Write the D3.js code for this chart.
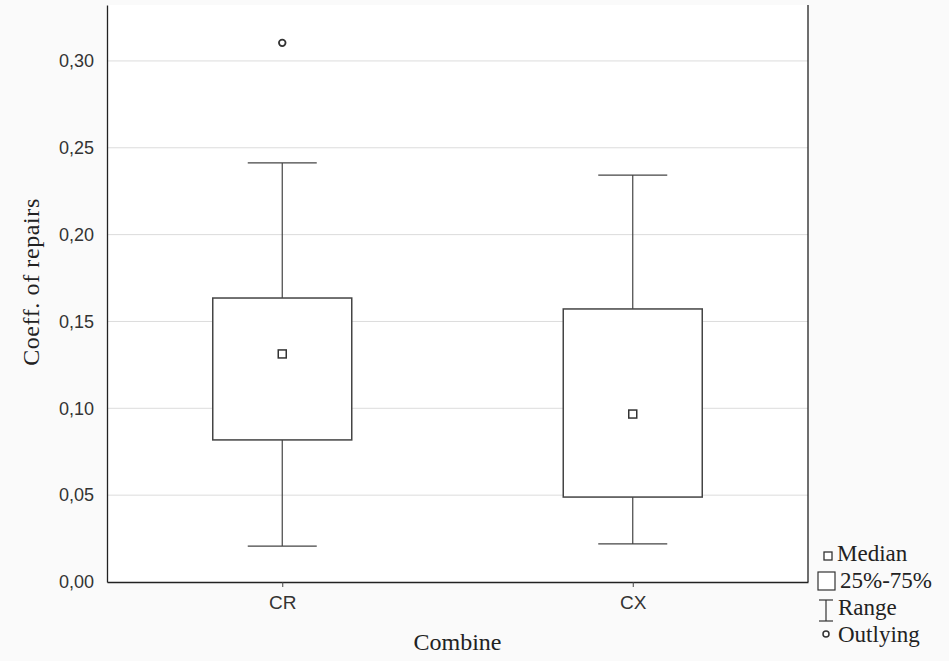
<!DOCTYPE html>
<html>
<head>
<meta charset="utf-8">
<script src="https://cdn.jsdelivr.net/npm/d3@7"></script>
<style>
  body { margin: 0; background: #fafafa; }
  svg { display: block; }
</style>
</head>
<body>
<div id="chart"></div>
<script>
// data
const groups = ["CR", "CX"]
const mins = [0.0207, 0.0219]
const q1s = [0.0818, 0.0489]
const medians = [0.1313, 0.0967]
const q3s = [0.1635, 0.1572]
const maxs = [0.2413, 0.2343]
const outliers = [[0.3104], []]
const yTicks = [0, 0.05, 0.10, 0.15, 0.20, 0.25, 0.30]

var width = 949, height = 661
var margin = {top: 5, right: 141, bottom: 79, left: 107}
var w = width - margin.left - margin.right
var h = height - margin.top - margin.bottom

var svg = d3.select("#chart")
  .append("svg")
    .attr("width", width)
    .attr("height", height)

var g = svg.append("g")
  .attr("transform", "translate(" + margin.left + "," + margin.top + ")")

// plot background
g.append("rect")
  .attr("width", w)
  .attr("height", h)
  .attr("fill", "#fff")

var y = d3.scaleLinear()
  .domain([0, 0.3322])
  .range([h, 0])

var x = d3.scalePoint()
  .domain(groups)
  .range([0, w])
  .padding(0.5)

var fmt = function(d) { return d3.format(".2f")(d).replace(".", ",") }

// grid
g.selectAll("line.grid")
  .data(yTicks.slice(1))
  .enter()
  .append("line")
    .attr("class", "grid")
    .attr("x1", 0)
    .attr("x2", w)
    .attr("y1", function(d) { return y(d) })
    .attr("y2", function(d) { return y(d) })
    .attr("stroke", "#dcdcdc")
    .attr("stroke-width", 1)

// y axis
var yAxis = g.append("g")
  .call(d3.axisLeft(y).tickValues(yTicks).tickFormat(fmt).tickSize(0).tickPadding(13))
yAxis.select(".domain").attr("stroke", "#222").attr("stroke-width", 1.3)
yAxis.selectAll("text")
  .style("font-family", "Liberation Sans, Arial, sans-serif")
  .style("font-size", "18px")
  .attr("fill", "#333")

// x axis
var xAxis = g.append("g")
  .attr("transform", "translate(0," + h + ")")
  .call(d3.axisBottom(x).tickSize(5).tickSizeOuter(0).tickPadding(9))
xAxis.select(".domain").attr("stroke", "#222").attr("stroke-width", 1.3)
xAxis.selectAll(".tick line").attr("stroke", "#444")
xAxis.selectAll("text")
  .style("font-family", "Liberation Sans, Arial, sans-serif")
  .style("font-size", "19px")
  .attr("fill", "#333")

// right border
g.append("line")
  .attr("x1", w).attr("x2", w)
  .attr("y1", 0).attr("y2", h)
  .attr("stroke", "#222")
  .attr("stroke-width", 1.3)

var boxW = 139
var capW = 69
var stroke = "#444"

groups.forEach(function(name, i) {
  var cx = x(name)
  // whiskers
  g.append("line")
    .attr("x1", cx).attr("x2", cx)
    .attr("y1", y(q3s[i])).attr("y2", y(maxs[i]))
    .attr("stroke", stroke).attr("stroke-width", 1.2)
  g.append("line")
    .attr("x1", cx).attr("x2", cx)
    .attr("y1", y(q1s[i])).attr("y2", y(mins[i]))
    .attr("stroke", stroke).attr("stroke-width", 1.2)
  g.append("line")
    .attr("x1", cx - capW / 2).attr("x2", cx + capW / 2)
    .attr("y1", y(maxs[i])).attr("y2", y(maxs[i]))
    .attr("stroke", stroke).attr("stroke-width", 1.2)
  g.append("line")
    .attr("x1", cx - capW / 2).attr("x2", cx + capW / 2)
    .attr("y1", y(mins[i])).attr("y2", y(mins[i]))
    .attr("stroke", stroke).attr("stroke-width", 1.2)
  // box
  g.append("rect")
    .attr("x", cx - boxW / 2)
    .attr("y", y(q3s[i]))
    .attr("width", boxW)
    .attr("height", y(q1s[i]) - y(q3s[i]))
    .attr("fill", "#fff")
    .attr("stroke", stroke)
    .attr("stroke-width", 1.5)
  // median
  g.append("rect")
    .attr("x", cx - 4)
    .attr("y", y(medians[i]) - 4)
    .attr("width", 8)
    .attr("height", 8)
    .attr("fill", "#fff")
    .attr("stroke", "#333")
    .attr("stroke-width", 1.5)
  // outliers
  g.selectAll("circle.out" + i)
    .data(outliers[i])
    .enter()
    .append("circle")
      .attr("cx", cx)
      .attr("cy", function(d) { return y(d) })
      .attr("r", 3.3)
      .attr("fill", "#fff")
      .attr("stroke", "#333")
      .attr("stroke-width", 1.8)
})

// axis titles
svg.append("text")
  .attr("transform", "translate(39,282) rotate(-90)")
  .attr("text-anchor", "middle")
  .style("font-family", "Liberation Serif, Times New Roman, serif")
  .style("font-size", "24px")
  .style("letter-spacing", "0.6px")
  .attr("fill", "#222")
  .text("Coeff. of repairs")

svg.append("text")
  .attr("x", margin.left + w / 2)
  .attr("y", 650)
  .attr("text-anchor", "middle")
  .style("font-family", "Liberation Serif, Times New Roman, serif")
  .style("font-size", "24px")
  .attr("fill", "#222")
  .text("Combine")

// legend
var leg = svg.append("g")
var legFont = function(sel) {
  sel.style("font-family", "Liberation Serif, Times New Roman, serif")
    .style("font-size", "23px")
    .attr("fill", "#222")
}
leg.append("rect").attr("x", 824).attr("y", 552).attr("width", 8).attr("height", 8)
  .attr("fill", "#fff").attr("stroke", "#333").attr("stroke-width", 1.3)
leg.append("text").attr("x", 837).attr("y", 561).text("Median").call(legFont)

leg.append("rect").attr("x", 818).attr("y", 572).attr("width", 17).attr("height", 18)
  .attr("fill", "#fff").attr("stroke", "#333").attr("stroke-width", 1.2)
leg.append("text").attr("x", 840).attr("y", 588).text("25%-75%").call(legFont)

leg.append("line").attr("x1", 826).attr("x2", 826).attr("y1", 600).attr("y2", 621)
  .attr("stroke", "#333").attr("stroke-width", 1.2)
leg.append("line").attr("x1", 819).attr("x2", 833).attr("y1", 600).attr("y2", 600)
  .attr("stroke", "#333").attr("stroke-width", 1.2)
leg.append("line").attr("x1", 819).attr("x2", 833).attr("y1", 621).attr("y2", 621)
  .attr("stroke", "#333").attr("stroke-width", 1.2)
leg.append("text").attr("x", 838).attr("y", 615).text("Range").call(legFont)

leg.append("circle").attr("cx", 826).attr("cy", 634).attr("r", 3)
  .attr("fill", "#fff").attr("stroke", "#333").attr("stroke-width", 1.5)
leg.append("text").attr("x", 838).attr("y", 642).text("Outlying").call(legFont)
</script>
</body>
</html>
